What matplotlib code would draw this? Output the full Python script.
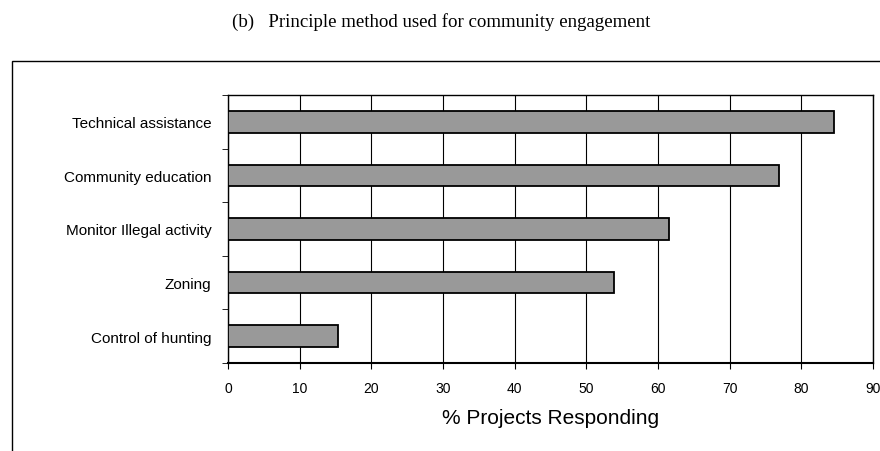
import numpy as np
from matplotlib import pyplot as plt
from matplotlib.patches import Rectangle

categories = ["Technical assistance", "Community education", "Monitor Illegal activity",
              "Zoning", "Control of hunting"]
percent = [84.6, 76.9, 61.5, 53.8, 15.4]
x_ticks = [0, 10, 20, 30, 40, 50, 60, 70, 80, 90]


def main():
    fig = plt.figure(figsize=(8.8, 4.52), dpi=100)

    # outer chart frame, cut off at the right and bottom edges
    fig.patches.append(Rectangle((12 / 880, -0.05), 1.0, (452 - 62) / 452 + 0.05,
                                 transform=fig.transFigure, fill=False,
                                 edgecolor="black", lw=1.0))

    fig.text(441 / 880, 1 - 22 / 452, "(b)   Principle method used for community engagement",
             ha="center", va="center", family="Liberation Serif", fontsize=13.6)

    ax = fig.add_axes([228 / 880, (452 - 364) / 452, (873 - 228) / 880, (364 - 96) / 452])

    y = np.arange(len(categories))[::-1]
    ax.barh(y, percent, height=0.4, color="#999999", edgecolor="black", lw=1.3, zorder=3)

    ax.set_xlim(0, 90)
    ax.set_ylim(-0.5, len(categories) - 0.5)
    ax.set_xticks(x_ticks)
    ax.set_xticklabels([str(t) for t in x_ticks], family="Liberation Sans", fontsize=10)
    ax.xaxis.grid(True, color="black", lw=0.8, zorder=0)

    ax.set_yticks(y)
    ax.set_yticklabels(categories, family="Liberation Sans", fontsize=11)
    ax.tick_params(axis="y", length=0, pad=12)
    ax.set_yticks(np.arange(-0.5, len(categories)), minor=True)
    ax.tick_params(axis="y", which="minor", length=4, direction="out")
    ax.tick_params(axis="x", length=4, direction="out", pad=9)

    for s in ax.spines.values():
        s.set_color("black")
        s.set_linewidth(1.0)
    ax.spines["bottom"].set_linewidth(1.5)

    ax.set_xlabel("% Projects Responding", family="Liberation Sans", fontsize=15, labelpad=9)

    plt.savefig("out.png", dpi=100)


if __name__ == "__main__":
    main()
